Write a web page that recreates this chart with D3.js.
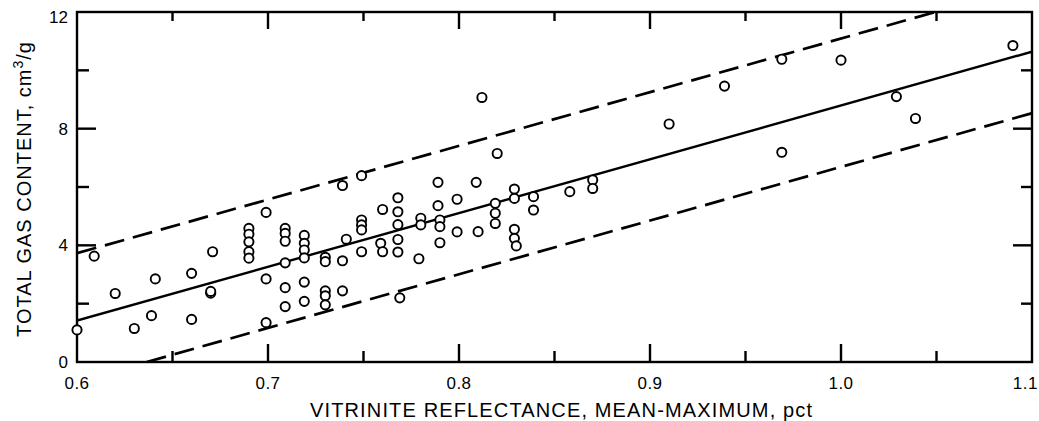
<!DOCTYPE html>
<html>
<head>
<meta charset="utf-8">
<script src="https://cdn.jsdelivr.net/npm/d3@7"></script>
<style>
  html, body { margin: 0; padding: 0; background: #fff; }
  svg { display: block; }
  text { font-family: "Liberation Sans", Arial, sans-serif; fill: #000; }
</style>
</head>
<body>
<svg id="chart" width="1039" height="421"></svg>
<script>
// ---- Data ----
const reflectance = [
  0.600, 0.609, 0.620, 0.630, 0.639, 0.641, 0.660, 0.660, 0.670, 0.670, 0.671,
  0.690, 0.690, 0.690, 0.690, 0.690, 0.699, 0.699, 0.699,
  0.709, 0.709, 0.709, 0.709, 0.709, 0.709,
  0.719, 0.719, 0.719, 0.719, 0.719, 0.719,
  0.730, 0.730, 0.730, 0.730, 0.730,
  0.739, 0.741, 0.739, 0.739,
  0.749, 0.749, 0.749, 0.749, 0.749,
  0.760, 0.759, 0.760,
  0.768, 0.768, 0.768, 0.768, 0.768, 0.769,
  0.779, 0.780, 0.780,
  0.789, 0.789, 0.790, 0.790, 0.790,
  0.799, 0.799, 0.809, 0.810, 0.812,
  0.820, 0.819, 0.819, 0.819,
  0.829, 0.829, 0.829, 0.829, 0.830,
  0.839, 0.839, 0.858, 0.870, 0.870,
  0.910, 0.939, 0.969, 0.969, 1.000, 1.029, 1.039, 1.090
];
const gasContent = [
  1.10, 3.63, 2.35, 1.15, 1.59, 2.85, 3.04, 1.46, 2.36, 2.42, 3.78,
  4.58, 4.38, 4.12, 3.78, 3.56, 5.13, 2.85, 1.35,
  4.58, 4.41, 4.14, 3.40, 2.55, 1.90,
  4.34, 4.07, 3.84, 3.57, 2.74, 2.08,
  3.59, 3.44, 2.44, 2.27, 1.96,
  6.05, 4.21, 3.47, 2.44,
  6.39, 4.87, 4.70, 4.53, 3.78,
  5.23, 4.07, 3.78,
  5.63, 5.15, 4.71, 4.20, 3.77, 2.20,
  3.54, 4.93, 4.70,
  6.16, 5.36, 4.87, 4.64, 4.09,
  5.58, 4.46, 6.16, 4.47, 9.07,
  7.15, 5.44, 5.10, 4.75,
  5.93, 5.61, 4.55, 4.24, 3.98,
  5.67, 5.21, 5.84, 6.24, 5.95,
  8.16, 9.46, 10.38, 7.19, 10.35, 9.10, 8.35, 10.85
];
// regression line and bounds (endpoints)
const fitX = [0.600, 1.100];
const fitY = [1.42, 10.64];
const upperX = [0.600, 1.100];
const upperY = [3.73, 12.93];
const lowerX = [0.6365, 1.100];
const lowerY = [0.00, 8.53];

const xMajorTicks = [0.6, 0.7, 0.8, 0.9, 1.0, 1.1];
const xTickLabels = ["0.6", "0.7", "0.8", "0.9", "1.0", "1.1"];
const xMinorTicks = [0.65, 0.75, 0.85, 0.95, 1.05];
const yMajorTicks = [0, 4, 8, 12];
const yTickLabels = ["0", "4", "8", "12"];
const yMinorTicks = [2, 6, 10];

// ---- Layout ----
const svg = d3.select("#chart");
const mLeft = 77, mRight = 1032, mTop = 12, mBottom = 362;
const x = d3.scaleLinear().domain([0.6, 1.1]).range([mLeft, mRight]);
const y = d3.scaleLinear().domain([0, 12]).range([mBottom, mTop]);
const tw = 2.4; // tick thickness

svg.append("defs").append("clipPath").attr("id", "plotclip")
  .append("rect").attr("x", mLeft).attr("y", mTop)
  .attr("width", mRight - mLeft).attr("height", mBottom - mTop);

// Frame
svg.append("rect").attr("x", mLeft).attr("y", mTop)
  .attr("width", mRight - mLeft).attr("height", mBottom - mTop)
  .attr("fill", "none").attr("stroke", "#000").attr("stroke-width", 2.4);

// Inward ticks drawn as filled bars
const innerX = xMajorTicks.slice(1, -1);
const innerY = yMajorTicks.slice(1, -1);
const xTickSpecs = [
  ...innerX.map(v => ({v, y0: mBottom - 18, len: 18})),
  ...xMinorTicks.map(v => ({v, y0: mBottom - 11, len: 11})),
  ...innerX.map(v => ({v, y0: mTop, len: 17})),
  ...xMinorTicks.map(v => ({v, y0: mTop, len: 9}))
];
const yTickSpecs = [
  ...innerY.map(v => ({v, x0: mLeft, len: 19})),
  ...yMinorTicks.map(v => ({v, x0: mLeft, len: 12})),
  ...innerY.map(v => ({v, x0: mRight - 19, len: 19})),
  ...yMinorTicks.map(v => ({v, x0: mRight - 11, len: 11}))
];
const tickG = svg.append("g").attr("class", "ticks");
tickG.selectAll("rect.xt").data(xTickSpecs).join("rect").attr("class", "xt")
  .attr("x", d => x(d.v) - tw / 2).attr("y", d => d.y0)
  .attr("width", tw).attr("height", d => d.len).attr("fill", "#000");
tickG.selectAll("rect.yt").data(yTickSpecs).join("rect").attr("class", "yt")
  .attr("x", d => d.x0).attr("y", d => y(d.v) - tw / 2)
  .attr("width", d => d.len).attr("height", tw).attr("fill", "#000");

// Tick labels
svg.append("g").selectAll("text").data(xMajorTicks).join("text")
  .attr("x", (d, i) => i === xMajorTicks.length - 1 ? 1038 : x(d))
  .attr("y", 389)
  .attr("text-anchor", (d, i) => i === xMajorTicks.length - 1 ? "end" : "middle")
  .attr("font-size", 17).attr("letter-spacing", 0.5)
  .text((d, i) => xTickLabels[i]);
svg.append("g").selectAll("text").data(yMajorTicks).join("text")
  .attr("x", 68).attr("y", d => y(d) + (d === 12 ? 11 : 6))
  .attr("text-anchor", "end").attr("font-size", 17)
  .text((d, i) => yTickLabels[i]);

// Axis titles
svg.append("text").attr("x", 310).attr("y", 416.5)
  .attr("font-size", 20).attr("textLength", 502).attr("lengthAdjust", "spacing")
  .text("VITRINITE REFLECTANCE, MEAN-MAXIMUM, pct");

const yt = svg.append("text")
  .attr("transform", "translate(31,189) rotate(-90)")
  .attr("text-anchor", "middle").attr("font-size", 20).attr("letter-spacing", 1);
yt.append("tspan").text("TOTAL GAS CONTENT, cm");
yt.append("tspan").attr("font-size", 14).attr("dy", -8).text("3");
yt.append("tspan").attr("dy", 8).text("/g");

// Lines
const plot = svg.append("g").attr("clip-path", "url(#plotclip)");
const lineGen = d3.line().x(d => x(d[0])).y(d => y(d[1]));
plot.append("path").datum(d3.zip(fitX, fitY)).attr("d", lineGen)
  .attr("fill", "none").attr("stroke", "#000").attr("stroke-width", 2.4);
plot.append("path").datum(d3.zip(upperX, upperY)).attr("d", lineGen)
  .attr("fill", "none").attr("stroke", "#000").attr("stroke-width", 2.7)
  .attr("stroke-dasharray", "20,9");
plot.append("path").datum(d3.zip(lowerX, lowerY)).attr("d", lineGen)
  .attr("fill", "none").attr("stroke", "#000").attr("stroke-width", 2.7)
  .attr("stroke-dasharray", "20,9");

// Points
svg.append("g").selectAll("circle").data(d3.zip(reflectance, gasContent)).join("circle")
  .attr("cx", d => x(d[0])).attr("cy", d => y(d[1])).attr("r", 4.6)
  .attr("fill", "#fff").attr("stroke", "#000").attr("stroke-width", 1.9);
</script>
</body>
</html>
